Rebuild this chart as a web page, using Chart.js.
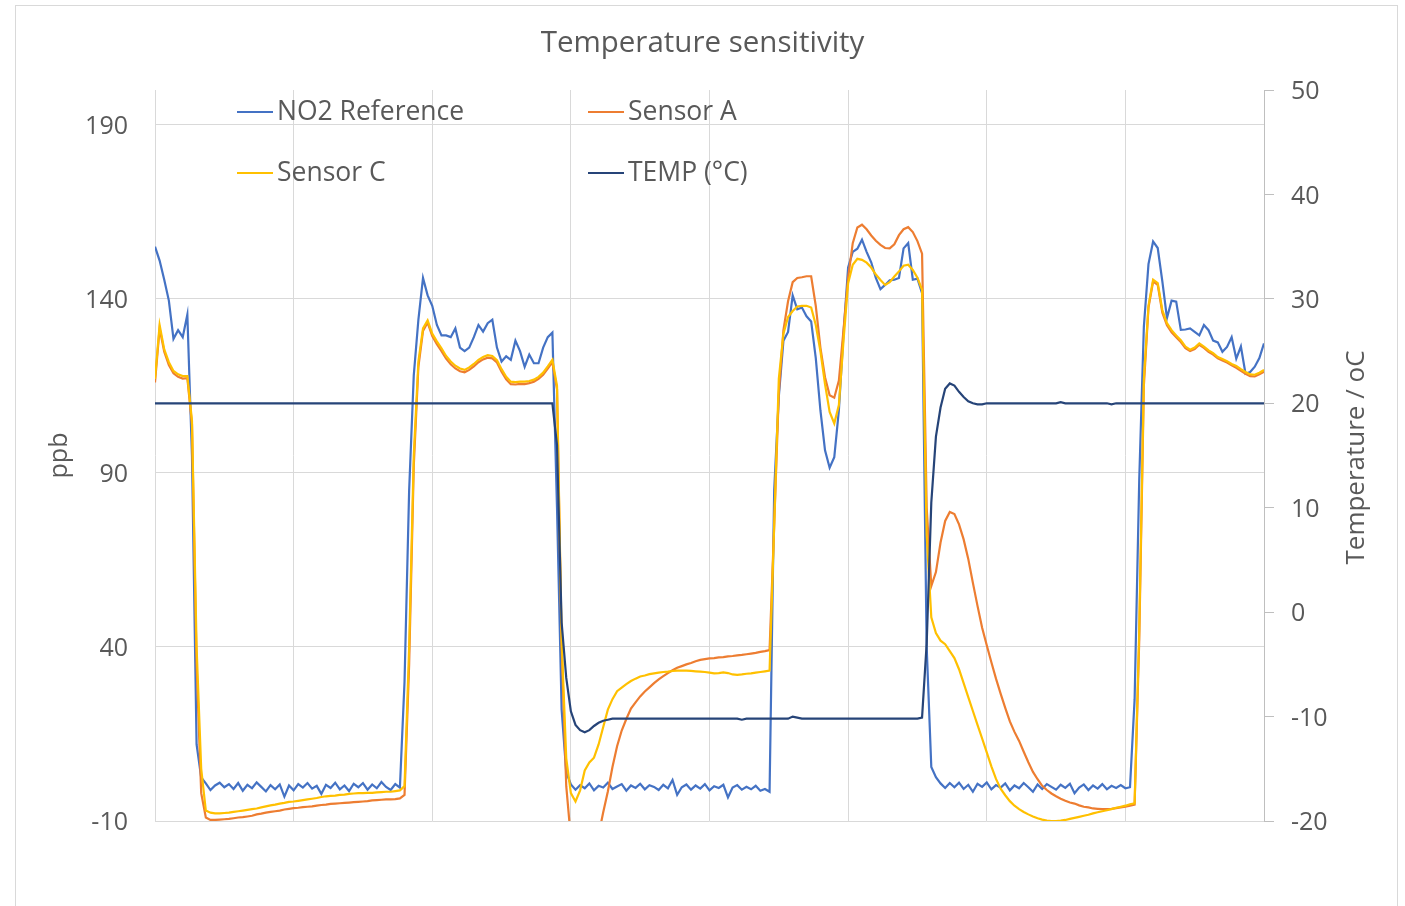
<!DOCTYPE html>
<html>
<head>
<meta charset="utf-8">
<script src="https://cdn.jsdelivr.net/npm/chart.js@4.4.1/dist/chart.umd.min.js"></script>
<style>
html,body{margin:0;padding:0;background:#fff;}
canvas{display:block;}
</style>
</head>
<body>
<canvas id="chart" width="1405" height="906"></canvas>
<script>
const chartTitle = 'Temperature sensitivity';
const seriesNames = ['NO2 Reference', 'Sensor A', 'Sensor C', 'TEMP (°C)'];
const leftAxisTitle = 'ppb';
const rightAxisTitle = 'Temperature / oC';
const leftTicks = [-10, 40, 90, 140, 190];
const rightTicks = [-20, -10, 0, 10, 20, 30, 40, 50];

// one sample every step along the run (241 samples, 8 grid sections of 30)
const no2Reference = [
  155, 151, 145.5, 139.5, 128.5, 131, 129, 135.5, 95, 12,
  2.5, 0.8, -1.1, 0.2, 1.0, -0.3, 0.6, -0.8, 0.9, -1.3,
  0.4, -0.6, 1.1, -0.2, -1.5, 0.3, -0.9, 0.5, -3.0, 0.2,
  -1.2, 0.6, -0.4, 0.9, -0.7, 0.1, -2.2, 0.4, -0.5, 1.0,
  -0.9, 0.2, -1.4, 0.7, -0.3, 0.9, -1.0, 0.5, -0.6, 1.2,
  -0.2, -1.1, 0.6, -0.4, 30, 85, 118, 134, 146, 141,
  138, 132.5, 129.5, 129.5, 129, 131.5, 126, 125, 126, 129,
  132.5, 130.6, 133, 134, 126, 122, 123.5, 122.5, 128, 125,
  120.5, 124, 121.5, 121.5, 126, 129, 130.3, 80, 22, 4,
  0.5, -1.0, 0.3, -0.6, 0.8, -1.2, 0.1, -0.4, 1.0, -0.8,
  -0.1, 0.6, -1.3, 0.2, -0.5, 0.7, -0.9, 0.3, -0.2, -1.1,
  0.4, -0.6, 1.8, -2.5, -0.3, 0.5, -1.0, 0.2, -0.7, 0.6,
  -1.2, 0.0, -0.5, 0.4, -3.2, -0.4, 0.3, -1.0, -0.2, -0.9,
  0.1, -1.3, -0.8, -1.6, 85, 112, 128, 130.5, 141, 137,
  137.5, 135, 133.5, 123, 108, 96.5, 91.5, 94.5, 108, 130,
  149, 153.5, 154.4, 157, 153.5, 150.5, 146, 142.8, 144, 145.3,
  145.5, 146, 154.5, 156, 145.5, 145.8, 141.6, 40, 5.5, 2.6,
  0.8, -0.5, 0.9, -0.3, 1.0, -0.8, 0.4, -1.6, 0.7, -0.2,
  1.1, -0.9, 0.3, -0.4, 0.8, -1.2, 0.2, -0.6, 0.9, -0.3,
  -1.6, 0.5, -0.8, 0.6, -0.2, -1.0, 0.4, -0.5, 0.7, -2.0,
  -0.4, 0.5, -1.1, 0.2, -0.7, 0.6, -0.9, 0.1, -0.5, 0.3,
  -0.6, -0.3, 25, 88, 132, 150, 156.5, 154.6, 145, 134.5,
  139.5, 139.2, 131.1, 131.2, 131.5, 130.5, 129.5, 132.5, 131, 128,
  127.5, 124.8, 126.2, 129, 122.8, 126.3, 118.5, 119, 120.5, 123,
  127.2
];

const sensorA = [
  116, 131.5, 124.8, 121, 118.6, 117.6, 117.1, 117.2, 104, 35,
  -2, -9.0, -9.7, -9.7, -9.6, -9.5, -9.4, -9.2, -9.0, -8.9,
  -8.7, -8.5, -8.1, -7.9, -7.6, -7.4, -7.2, -7.0, -6.7, -6.5,
  -6.3, -6.2, -6.0, -5.9, -5.8, -5.6, -5.4, -5.3, -5.1, -5.0,
  -4.9, -4.8, -4.7, -4.6, -4.5, -4.4, -4.3, -4.1, -4.0, -3.9,
  -3.8, -3.8, -3.7, -3.5, -2.5, 35, 92, 120.5, 130.8, 133.2,
  129.3, 127, 125, 122.8, 121.2, 120, 119.2, 118.9, 119.6, 120.6,
  121.8, 122.6, 123.1, 122.9, 121.7, 119.1, 116.9, 115.5, 115.4, 115.6,
  115.5, 115.8, 116.2, 117, 118.2, 120, 121.8, 114, 40, 0,
  -15, -25, -30, -30, -28, -22, -14, -7.5, -1.5, 5.5,
  11.5, 16, 19.3, 22.3, 24.1, 25.8, 27.2, 28.4, 29.6, 30.7,
  31.6, 32.5, 33.3, 34, 34.5, 35, 35.4, 35.9, 36.3, 36.5,
  36.7, 36.8, 37, 37.1, 37.3, 37.4, 37.6, 37.7, 37.9, 38.1,
  38.3, 38.6, 38.8, 39.1, 75, 113, 131, 139.3, 144.8, 146,
  146.2, 146.5, 146.5, 138, 126, 117.5, 112.3, 111.6, 116.5, 131,
  146, 156, 160.5, 161.3, 160, 158.2, 156.7, 155.5, 154.6, 154.5,
  155.7, 158.3, 160, 160.6, 159.2, 156.6, 153, 80, 57.5, 61.5,
  70, 76.2, 78.8, 78.2, 75.2, 70.9, 65.3, 58.4, 51.8, 45.5,
  40.5, 35.6, 30.9, 26.6, 22.5, 18.6, 15.6, 13, 9.9, 6.9,
  4.1, 2, 0.1, -1.1, -2.1, -2.9, -3.6, -4.2, -4.7, -5.0,
  -5.5, -5.9, -6.1, -6.4, -6.5, -6.6, -6.6, -6.5, -6.3, -6.1,
  -5.9, -5.6, -5.3, 42, 115, 137.5, 145, 144, 136, 132.4,
  130.4, 129, 127.6, 125.8, 125, 125.6, 126.8, 125.9, 124.8, 124,
  122.9, 122.3, 121.7, 120.9, 120.2, 119.3, 118.5, 117.8, 117.7, 118.3,
  119.1
];

const sensorC = [
  117, 132.5, 125.5, 121.8, 119.3, 118.3, 117.8, 117.8, 105, 40,
  5, -7.0, -7.6, -7.8, -7.8, -7.7, -7.6, -7.4, -7.2, -7.0,
  -6.8, -6.6, -6.4, -6.1, -5.8, -5.5, -5.3, -5.0, -4.8, -4.5,
  -4.4, -4.2, -4.0, -3.8, -3.6, -3.4, -3.1, -2.9, -2.8, -2.7,
  -2.5, -2.4, -2.2, -2.1, -2.0, -2.0, -1.9, -1.9, -1.8, -1.7,
  -1.6, -1.6, -1.4, -1.2, 0, 40, 95, 122, 131.5, 133.8,
  130, 127.8, 125.8, 123.6, 122, 120.8, 120, 119.6, 120.3, 121.3,
  122.5, 123.3, 123.8, 123.6, 122.4, 119.8, 117.6, 116.2, 116.1, 116.2,
  116.2, 116.4, 116.8, 117.6, 118.8, 120.6, 122.5, 115, 42, 8,
  -2, -4.4, -1.2, 4.5, 6.8, 8.2, 12, 17, 22, 25,
  27.3, 28.3, 29.3, 30.2, 30.9, 31.5, 31.8, 32.2, 32.4, 32.6,
  32.8, 32.9, 33.1, 33.2, 33.2, 33.2, 33.1, 33.0, 32.9, 32.8,
  32.6, 32.4, 32.5, 32.7, 32.5, 32.1, 32.0, 32.1, 32.3, 32.4,
  32.6, 32.8, 33.0, 33.2, 75, 117, 130, 134.8, 136.5, 137.8,
  138, 138, 137.5, 132.5, 125, 115.5, 107.5, 104.2, 109.5, 128,
  144.5, 149.8, 151.5, 151.2, 150.4, 149, 147, 145.4, 144, 144.8,
  146.4, 147.9, 149.5, 149.8, 148.3, 146.1, 142.6, 72, 48.5, 44,
  41.8, 40.8, 38.8, 36.8, 33.6, 29.6, 25.6, 21.6, 17.6, 13.7,
  9.7, 5.7, 2.1, -0.7, -2.6, -4.3, -5.6, -6.6, -7.4, -8.1,
  -8.7, -9.2, -9.6, -9.9, -10.0, -10.0, -9.9, -9.7, -9.4, -9.1,
  -8.8, -8.5, -8.2, -7.8, -7.5, -7.2, -6.9, -6.6, -6.2, -5.9,
  -5.6, -5.2, -4.9, 45, 117, 138, 145.5, 144.5, 136.8, 133,
  131, 129.5, 128.1, 126.3, 125.4, 126, 127.2, 126.3, 125.2, 124.4,
  123.3, 122.7, 122.1, 121.3, 120.7, 119.8, 119, 118.3, 118.2, 118.8,
  119.6
];

const tempC = [
  20, 20, 20, 20, 20, 20, 20, 20, 20, 20,
  20, 20, 20, 20, 20, 20, 20, 20, 20, 20,
  20, 20, 20, 20, 20, 20, 20, 20, 20, 20,
  20, 20, 20, 20, 20, 20, 20, 20, 20, 20,
  20, 20, 20, 20, 20, 20, 20, 20, 20, 20,
  20, 20, 20, 20, 20, 20, 20, 20, 20, 20,
  20, 20, 20, 20, 20, 20, 20, 20, 20, 20,
  20, 20, 20, 20, 20, 20, 20, 20, 20, 20,
  20, 20, 20, 20, 20, 20, 20, 16, -1, -6.3,
  -9.5, -10.8, -11.3, -11.5, -11.3, -10.9, -10.6, -10.4, -10.3, -10.2,
  -10.2, -10.2, -10.2, -10.2, -10.2, -10.2, -10.2, -10.2, -10.2, -10.2,
  -10.2, -10.2, -10.2, -10.2, -10.2, -10.2, -10.2, -10.2, -10.2, -10.2,
  -10.2, -10.2, -10.2, -10.2, -10.2, -10.2, -10.2, -10.3, -10.2, -10.2,
  -10.2, -10.2, -10.2, -10.2, -10.2, -10.2, -10.2, -10.2, -10.0, -10.1,
  -10.2, -10.2, -10.2, -10.2, -10.2, -10.2, -10.2, -10.2, -10.2, -10.2,
  -10.2, -10.2, -10.2, -10.2, -10.2, -10.2, -10.2, -10.2, -10.2, -10.2,
  -10.2, -10.2, -10.2, -10.2, -10.2, -10.2, -10.1, -3, 10.5, 16.8,
  19.6, 21.4, 21.9, 21.7, 21.1, 20.6, 20.2, 20.0, 19.9, 19.9,
  20, 20, 20, 20, 20, 20, 20, 20, 20, 20,
  20, 20, 20, 20, 20, 20, 20.1, 20, 20, 20,
  20, 20, 20, 20, 20, 20, 20, 19.9, 20, 20,
  20, 20, 20, 20, 20, 20, 20, 20, 20, 20,
  20, 20, 20, 20, 20, 20, 20, 20, 20, 20,
  20, 20, 20, 20, 20, 20, 20, 20, 20, 20,
  20
];

const seriesColors = ['#4472C4', '#ED7D31', '#FFC000', '#264478'];
const FONT = "'Open Sans', 'Noto Sans', sans-serif";
const TEXT = '#595959';
const GRID = '#d9d9d9';

const toPoints = arr => arr.map((v, i) => ({ x: i, y: v }));

const framePlugin = {
  id: 'frame',
  beforeDraw(chart) {
    const c = chart.ctx;
    c.save();
    c.fillStyle = '#ffffff';
    c.fillRect(0, 0, chart.width, chart.height);
    c.strokeStyle = GRID;
    c.lineWidth = 1;
    c.strokeRect(15.5, 5.5, 1382, 1000);
    c.restore();
  }
};

const legendPlugin = {
  id: 'insideLegend',
  afterDraw(chart) {
    const c = chart.ctx;
    const a = chart.chartArea;
    const cols = [a.left + 82, a.left + 433];
    const rows = [a.top + 22, a.top + 83];
    c.save();
    c.font = '26.5px ' + FONT;
    c.textBaseline = 'middle';
    c.textAlign = 'left';
    seriesNames.forEach((name, k) => {
      const x = cols[k % 2];
      const y = rows[Math.floor(k / 2)];
      c.strokeStyle = seriesColors[k];
      c.lineWidth = 2;
      c.beginPath();
      c.moveTo(x, y);
      c.lineTo(x + 36, y);
      c.stroke();
      c.fillStyle = TEXT;
      c.fillText(name, x + 40, y);
    });
    c.restore();
  }
};

const rightTitlePlugin = {
  id: 'rightTitle',
  afterDraw(chart) {
    const c = chart.ctx;
    const a = chart.chartArea;
    c.save();
    c.translate(a.right + 93, (a.top + a.bottom) / 2 + 2);
    c.rotate(-Math.PI / 2);
    c.font = '26px ' + FONT;
    c.fillStyle = TEXT;
    c.textAlign = 'center';
    c.textBaseline = 'middle';
    c.fillText(rightAxisTitle, 0, 0);
    c.restore();
  }
};

const datasets = [
  { label: seriesNames[0], data: toPoints(no2Reference), borderColor: seriesColors[0], order: 4, yAxisID: 'y' },
  { label: seriesNames[1], data: toPoints(sensorA), borderColor: seriesColors[1], order: 3, yAxisID: 'y' },
  { label: seriesNames[2], data: toPoints(sensorC), borderColor: seriesColors[2], order: 2, yAxisID: 'y' },
  { label: seriesNames[3], data: toPoints(tempC), borderColor: seriesColors[3], order: 1, yAxisID: 'y1' }
].map(d => Object.assign(d, { borderWidth: 2.2, pointRadius: 0, tension: 0, fill: false }));

new Chart(document.getElementById('chart'), {
  type: 'line',
  data: { datasets },
  options: {
    responsive: false,
    animation: false,
    layout: { padding: 0 },
    plugins: {
      legend: { display: false },
      tooltip: { enabled: false },
      title: {
        display: true,
        text: chartTitle,
        color: TEXT,
        font: { family: FONT, size: 29.5, weight: 'normal' },
        padding: { top: 26.3, bottom: 28.3 }
      }
    },
    scales: {
      x: {
        type: 'linear',
        min: 0,
        max: no2Reference.length - 1,
        ticks: { display: false, stepSize: 30 },
        grid: { color: GRID, lineWidth: 1, drawTicks: false },
        border: { display: false },
        afterFit(s) { s.height = 85; }
      },
      y: {
        position: 'left',
        min: -10,
        max: 200,
        afterBuildTicks(s) { s.ticks = leftTicks.map(v => ({ value: v })); },
        ticks: { color: TEXT, font: { family: FONT, size: 25 }, padding: 27, labelOffset: 2 },
        grid: { color: GRID, lineWidth: 1, drawTicks: false },
        border: { display: false },
        title: {
          display: true,
          text: leftAxisTitle,
          color: TEXT,
          font: { family: FONT, size: 25 },
          padding: { top: 45, bottom: 0 }
        },
        afterFit(s) { s.width = 155; }
      },
      y1: {
        position: 'right',
        min: -20,
        max: 50,
        afterBuildTicks(s) { s.ticks = rightTicks.map(v => ({ value: v })); },
        ticks: { color: TEXT, font: { family: FONT, size: 25 }, padding: 17, labelOffset: 2 },
        grid: { drawOnChartArea: false, color: '#bfbfbf', tickLength: 10, drawTicks: true },
        border: { display: true, color: '#bfbfbf' },
        afterFit(s) { s.width = 141; }
      }
    }
  },
  plugins: [framePlugin, legendPlugin, rightTitlePlugin]
});
</script>
</body>
</html>
